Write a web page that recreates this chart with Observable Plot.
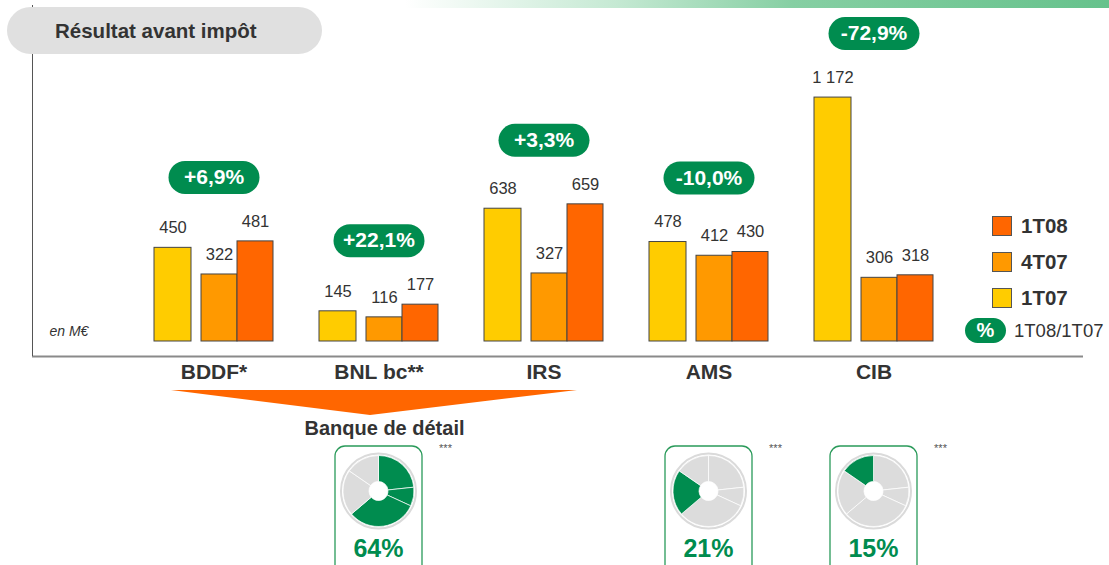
<!DOCTYPE html>
<html><head><meta charset="utf-8">
<script src="https://cdn.jsdelivr.net/npm/d3@7"></script>
<script src="https://cdn.jsdelivr.net/npm/@observablehq/plot@0.6"></script>
<style>
html,body{margin:0;padding:0;background:#fff;}
#wrap{position:relative;width:1109px;height:565px;overflow:hidden;font-family:"Liberation Sans",Arial,sans-serif;color:#333;}
#wrap > svg{position:absolute;left:0;top:0;}
.abs{position:absolute;}
#topbar{left:405px;top:0;width:704px;height:8px;background:linear-gradient(to right,#ffffff 0%,#c5e9d3 30%,#86cfa3 55%,#66c28c 100%);}
#leftline{left:32px;top:5px;width:0;height:351px;border-left:1px solid #555;}
#title{left:7px;top:7px;width:315px;height:47px;border-radius:23.5px;background:#e0e0e0;font-weight:bold;font-size:20.5px;line-height:47px;padding-left:48px;box-sizing:border-box;color:#333;}
.sw{width:18px;height:18px;border:1px solid #555;}
.lg{font-weight:bold;font-size:20.5px;line-height:24px;color:#333;}
#pctpill{left:965px;top:318px;width:41px;height:25px;border-radius:12.5px;background:#008c4f;color:#fff;font-weight:bold;font-size:20px;line-height:25px;text-align:center;}
#pcttxt{left:1014px;top:320px;font-size:18.5px;line-height:22px;color:#333;}
</style></head><body><div id="wrap"></div>
<script>
// ---- data ----
const categories = ["BDDF*", "BNL bc**", "IRS", "AMS", "CIB"];
const periods = ["1T07", "4T07", "1T08"];
const v1T07 = [450, 145, 638, 478, 1172];
const v4T07 = [322, 116, 327, 412, 306];
const v1T08 = [481, 177, 659, 430, 318];
const changeLabels = ["+6,9%", "+22,1%", "+3,3%", "-10,0%", "-72,9%"];
const periodColors = ["#FFCC00", "#FF9900", "#FF6600"];
const businessLines = ["Banque de détail", "Banque de détail", "Banque de détail", "AMS", "CIB"];
const donutGroups = ["Banque de détail", "AMS", "CIB"];
const donutAnchors = ["BNL bc**", "AMS", "CIB"];

const series = [v1T07, v4T07, v1T08];
const rows = categories.flatMap((c, i) => periods.map((p, j) => ({cat: c, period: p, value: series[j][i]})));
const groups = categories.map((c, i) => ({cat: c, top: Math.max(v1T07[i], v4T07[i], v1T08[i]), label: changeLabels[i]}));

const fr = d3.formatLocale({decimal: ",", thousands: " ", grouping: [3], currency: ["", " €"]});
const fmt = fr.format(",d");

// bar placement within each category band (band = 119px)
const place = {
  "1T07": {insetLeft: 0, insetRight: 82, dx: -41},
  "4T07": {insetLeft: 47, insetRight: 36, dx: 5.5},
  "1T08": {insetLeft: 83, insetRight: 0, dx: 41.5}
};

const pill = {
  draw(ctx) {
    const w = 91, h = 33, r = h / 2;
    ctx.moveTo(-w / 2 + r, -h / 2);
    ctx.lineTo(w / 2 - r, -h / 2);
    ctx.arc(w / 2 - r, 0, r, -Math.PI / 2, Math.PI / 2);
    ctx.lineTo(-w / 2 + r, h / 2);
    ctx.arc(-w / 2 + r, 0, r, Math.PI / 2, 3 * Math.PI / 2);
    ctx.closePath();
  }
};

const marks = [];
periods.forEach((p, j) => {
  const d = rows.filter(r => r.period === p);
  marks.push(Plot.barY(d, {x: "cat", y: "value", fill: periodColors[j], stroke: "#444", strokeWidth: 1,
    insetLeft: place[p].insetLeft, insetRight: place[p].insetRight}));
  marks.push(Plot.text(d, {x: "cat", y: "value", text: r => fmt(r.value), dx: place[p].dx, dy: -20,
    fontSize: 16.5, fill: "#333"}));
});
marks.push(Plot.ruleY([0], {dy: 15, stroke: "#8a8a8a", strokeWidth: 2}));
marks.push(Plot.dot(groups, {x: "cat", y: "top", dy: -64, symbol: pill, r: 10, fill: "#008c4f"}));
marks.push(Plot.text(groups, {x: "cat", y: "top", dy: -64, text: "label", fill: "white", fontWeight: "bold", fontSize: 21}));
marks.push(Plot.text(categories, {x: d => d, y: () => 0, dy: 31, text: d => d, fontSize: 21, fontWeight: "bold", fill: "#333"}));
marks.push(Plot.text(["en M€"], {frameAnchor: "bottom-left", dx: 17, dy: -10, lineAnchor: "middle", fontStyle: "italic", fontSize: 14, fill: "#333"}));

const plot = Plot.plot({
  width: 1109, height: 565,
  marginTop: 8, marginBottom: 224, marginLeft: 32, marginRight: 26,
  x: {domain: categories, paddingInner: 0.281, paddingOuter: 0.8157, align: 0.448, axis: null},
  y: {domain: [0, 1600], axis: null},
  style: {fontFamily: '"Liberation Sans", Arial, sans-serif', overflow: "visible", background: "transparent"},
  marks
});

const wrap = document.getElementById("wrap");
const add = (id, cls, html) => { const e = document.createElement("div"); if (id) e.id = id; e.className = cls; if (html) e.innerHTML = html; wrap.appendChild(e); return e; };
add("topbar", "abs");
wrap.appendChild(plot);
add("leftline", "abs");
add("title", "abs", "Résultat avant impôt");

// legend
const legendOrder = [2, 1, 0];
const legendTops = [226, 262, 298];
legendOrder.forEach((j, k) => {
  const s = add(null, "abs sw"); s.style.left = "992px"; s.style.top = (legendTops[k] - 10) + "px"; s.style.background = periodColors[j];
  const t = add(null, "abs lg", periods[j]); t.style.left = "1021px"; t.style.top = (legendTops[k] - 12) + "px";
});
add("pctpill", "abs", "%");
add("pcttxt", "abs", "1T08/1T07");

// overlay: retail arrow + donuts
const xs = plot.scale("x");
const cx = c => xs.apply(c) + xs.bandwidth / 2;
const ov = d3.select(wrap).append("svg").attr("width", 1109).attr("height", 565)
  .style("font-family", '"Liberation Sans", Arial, sans-serif');

const xl = xs.apply("BDDF*") + 17, xr = xs.apply("IRS") + xs.bandwidth - 26, xm = (xl + xr) / 2;
ov.append("path").attr("d", `M${xl},390 L${xr},390 L${xm - 4},415 Z`).attr("fill", "#FF6600");
ov.append("text").attr("x", cx("BNL bc**") + 6).attr("y", 428).attr("text-anchor", "middle").attr("dominant-baseline", "central")
  .attr("font-weight", "bold").attr("font-size", 20).attr("fill", "#333").text("Banque de détail");

const total = d3.sum(v1T08);
const slices = categories.map((c, i) => ({cat: c, group: businessLines[i], v: v1T08[i]}));
const pie = d3.pie().sort(null).value(d => d.v)(slices);
const arc = d3.arc().innerRadius(9.5).outerRadius(35.5);

donutGroups.forEach((g, k) => {
  const x = cx(donutAnchors[k]), y = 491;
  const share = d3.sum(slices.filter(s => s.group === g), s => s.v) / total;
  const gg = ov.append("g");
  gg.append("rect").attr("x", x - 43.5).attr("y", 446).attr("width", 87).attr("height", 140).attr("rx", 10)
    .attr("fill", "white").attr("stroke", "#2a9a5a").attr("stroke-width", 1.3);
  gg.append("circle").attr("cx", x).attr("cy", y).attr("r", 37.5).attr("fill", "none").attr("stroke", "#dadada").attr("stroke-width", 2);
  gg.append("g").attr("transform", `translate(${x},${y})`).selectAll("path").data(pie).join("path")
    .attr("d", arc).attr("fill", d => d.data.group === g ? "#008c4f" : "#dcdcdc").attr("stroke", "white").attr("stroke-width", 0.7);
  gg.append("text").attr("x", x).attr("y", 548).attr("text-anchor", "middle").attr("dominant-baseline", "central")
    .attr("font-weight", "bold").attr("font-size", 25).attr("fill", "#008c4f").text(Math.round(share * 100) + "%");
  gg.append("text").attr("x", x + 67).attr("y", 452).attr("text-anchor", "middle")
    .attr("font-size", 11).attr("fill", "#555").text("***");
});
</script></body></html>
